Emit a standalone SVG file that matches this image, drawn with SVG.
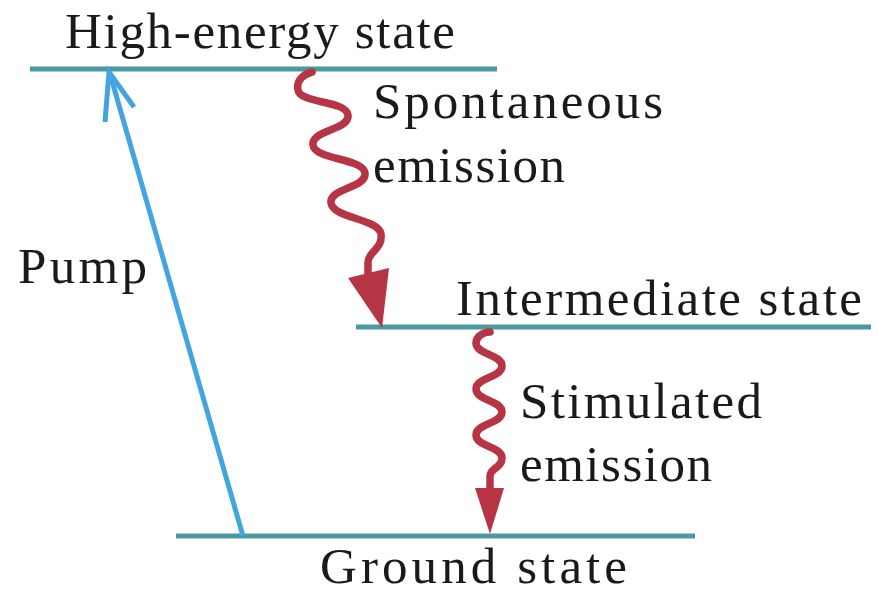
<svg xmlns="http://www.w3.org/2000/svg" width="878" height="594" viewBox="0 0 878 594">
<style>
.lvl{stroke:#4a9a9e;stroke-width:5;fill:none}
.wave{stroke:#b73445;stroke-width:7.5;fill:none;stroke-linecap:round;stroke-linejoin:round}
.head{fill:#b73445}
.pump{stroke:#42a5df;stroke-width:5;fill:none;stroke-linecap:butt;stroke-linejoin:miter}
text{font-family:"Liberation Serif","Times New Roman",serif;font-size:51px;fill:#1a1a1a}
</style>
<rect width="878" height="594" fill="#ffffff"/>
<g id="high">
<line class="lvl" x1="30" y1="69" x2="497" y2="69"/>
<text x="65" y="48" textLength="390" lengthAdjust="spacing">High-energy state</text>
</g>
<g id="intermediate">
<line class="lvl" x1="356" y1="327" x2="871" y2="327"/>
<text x="456" y="315" textLength="406" lengthAdjust="spacing">Intermediate state</text>
</g>
<g id="ground">
<line class="lvl" x1="176" y1="536" x2="695" y2="536"/>
<text x="320" y="583" textLength="307" lengthAdjust="spacing">Ground state</text>
</g>
<g id="connectors">
<g id="pump">
<line class="pump" x1="243" y1="536" x2="110" y2="74"/>
<polyline class="pump" points="105,122 109,72 134,107"/>
<text x="18" y="283" textLength="129" lengthAdjust="spacing">Pump</text>
</g>
<g id="spontaneous">
<path class="wave" d="M312,72 C304,74 296,80 298,90 C300,104 346,100 348,115 C350,130 311,130 313,145 C315,160 363,158 365,173 C367,188 329,188 331,203 C333,218 379,219 381,234 C383,249 368,252 368,262 L368,276"/>
<polygon class="head" points="348,278 389,268 382,328"/>
<text x="373" y="118" textLength="290" lengthAdjust="spacing">Spontaneous</text>
<text x="373" y="182" textLength="192" lengthAdjust="spacing">emission</text>
</g>
<g id="stimulated">
<path class="wave" d="M490,332 C484,332 476,336 476,343 C476,355 502,354 502,366 C502,378 476,377 476,389 C476,401 502,400 502,412 C502,424 476,423 476,435 C476,447 502,446 502,458 C502,468 490,468 490,476 L490,490"/>
<polygon class="head" points="475,488 504,488 490,534"/>
<text x="520" y="418" textLength="242" lengthAdjust="spacing">Stimulated</text>
<text x="520" y="481" textLength="192" lengthAdjust="spacing">emission</text>
</g>
</g>
</svg>
